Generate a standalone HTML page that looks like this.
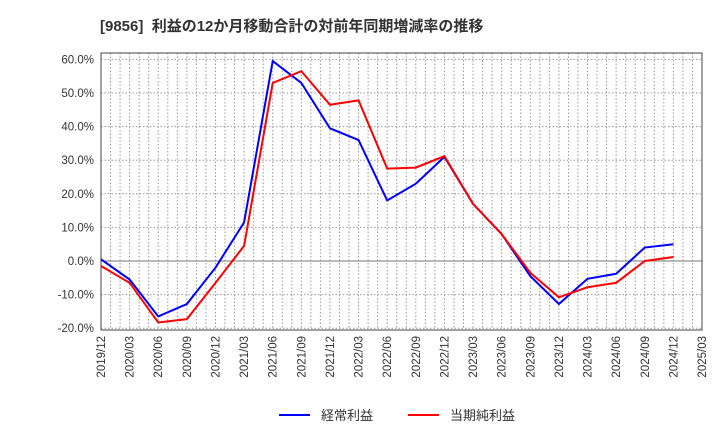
<!DOCTYPE html>
<html><head><meta charset="utf-8"><style>
body{margin:0;background:#fff;font-family:"Liberation Sans","Noto Sans CJK JP",sans-serif;}
svg text{font-family:"Liberation Sans","Noto Sans CJK JP",sans-serif;}
</style></head><body>
<svg id="chart" width="720" height="440">
<text x="100" y="31" font-size="15" font-weight="bold" fill="#333" xml:space="preserve">[9856]  利益の12か月移動合計の対前年同期増減率の推移</text>
<g id="grid"></g><g id="axes"></g><g id="series"></g>
<g>
<line x1="279" y1="415" x2="310" y2="415" stroke="#0000ff" stroke-width="2"/>
<text x="321" y="420" font-size="13" fill="#333">経常利益</text>
<line x1="408" y1="415" x2="439" y2="415" stroke="#ff0000" stroke-width="2"/>
<text x="450" y="420" font-size="13" fill="#333">当期純利益</text>
</g>
</svg>
<script>
const categories=["2019/12","2020/03","2020/06","2020/09","2020/12","2021/03","2021/06","2021/09","2021/12","2022/03","2022/06","2022/09","2022/12","2023/03","2023/06","2023/09","2023/12","2024/03","2024/06","2024/09","2024/12","2025/03"];
const keijo=[0.5,-5.5,-16.5,-12.8,-2,11.5,59.5,53,39.5,36,18,23,31,17,8,-4.5,-12.8,-5.3,-3.8,4,5];
const junri=[-1.5,-6.5,-18.3,-17.3,-6.5,4.5,53,56.5,46.5,47.8,27.5,27.8,31.2,17,8,-3.5,-10.8,-7.8,-6.5,0,1.2];
const yTicks=[-20,-10,0,10,20,30,40,50,60];
const NS="http://www.w3.org/2000/svg";
const L=101,R=702,T=53,B=330;
const xs=i=>L+i*(R-L)/(categories.length-1);
const ys=v=>261-v*3.36;
function mk(tag,attrs,parent){const e=document.createElementNS(NS,tag);for(const k in attrs)e.setAttribute(k,attrs[k]);parent.appendChild(e);return e;}
const grid=document.getElementById('grid'),axes=document.getElementById('axes'),ser=document.getElementById('series');
for(let m=1;m<(categories.length-1)*3;m++){const x=L+m*(R-L)/((categories.length-1)*3);
const g=mk('line',{x1:x,x2:x,y1:T,y2:B,stroke:'#999','stroke-dasharray':'1.5,2','stroke-width':1},grid);

}
yTicks.forEach(v=>{const y=ys(v);
const g=mk('line',{x1:L,x2:R,y1:y,y2:y,stroke:v===0?'#777':'#999','stroke-dasharray':v===0?'':'1.5,2','stroke-width':1},grid);


const t=mk('text',{x:L-7,y:y+4,'text-anchor':'end','font-size':11.5,fill:'#333'},axes);t.textContent=v.toFixed(1)+'%';

});
categories.forEach((c,i)=>{const x=xs(i);
const t=mk('text',{x:x+4,y:B+6,'text-anchor':'end','font-size':11.5,fill:'#333',transform:`rotate(-90 ${x+4} ${B+6})`},axes);t.textContent=c;

});
const fr=mk('rect',{x:L,y:T,width:R-L,height:B-T,fill:'none',stroke:'#444','stroke-width':1},axes);


[[keijo,'#0000ff','line-keijo'],[junri,'#ff0000','line-junri']].forEach(([d,c,n])=>{
const p=mk('polyline',{points:d.map((v,i)=>xs(i)+','+ys(v)).join(' '),fill:'none',stroke:c,'stroke-width':2},ser);

});
</script>
</body></html>
